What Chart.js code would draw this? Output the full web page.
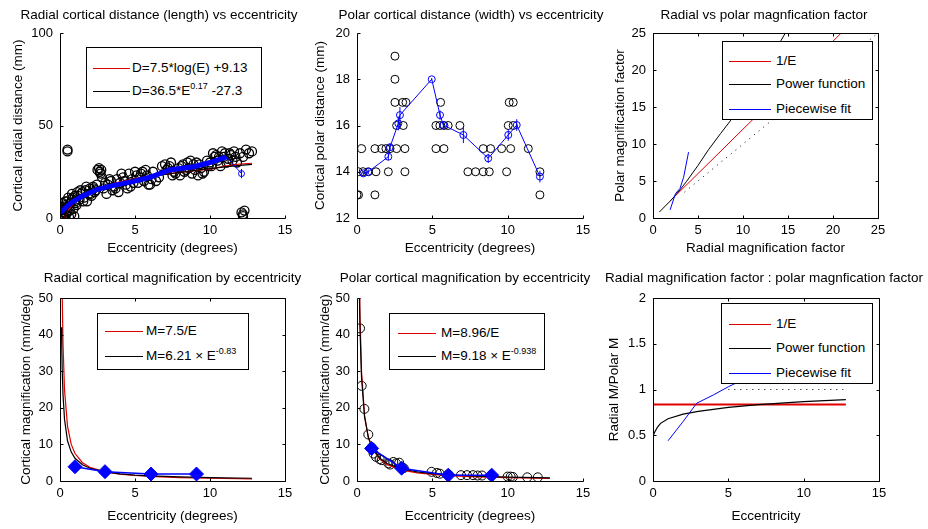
<!DOCTYPE html>
<html>
<head>
<meta charset="utf-8">
<script src="https://cdn.jsdelivr.net/npm/chart.js@4.4.1/dist/chart.umd.min.js"></script>
<style>
body{margin:0;background:#fff;width:928px;height:529px;overflow:hidden;position:relative;font-family:"Liberation Sans",Arial,sans-serif;color:#000}
canvas{position:absolute}
.lg{position:absolute;border:1px solid #000;background:#fff;box-sizing:border-box;z-index:5}
.lg .row{position:absolute;left:0;white-space:nowrap;font-size:13.5px;line-height:16px;height:16px}
.lg .ln{position:absolute;top:8px;height:0;border-top:1px solid #000}
.lg .tx{position:absolute;top:0}
.lg sup{font-size:9px;vertical-align:6px;line-height:0}
</style>
</head>
<body>
<canvas id="p1"></canvas>
<canvas id="p2"></canvas>
<canvas id="p3"></canvas>
<canvas id="p4"></canvas>
<canvas id="p5"></canvas>
<canvas id="p6"></canvas>
<script>
// ---- panel 1: radial cortical distance vs eccentricity
const radE = [0.05,0.1,0.1,0.15,0.2,0.2,0.25,0.3,0.3,0.35,
  0.4,0.45,0.5,0.5,0.5,0.6,0.6,0.7,0.75,0.8,
  0.85,0.9,0.95,1.0,1.0,1.1,1.2,1.3,1.4,1.5,
  1.6,1.7,1.8,1.9,2.0,2.1,2.2,2.3,2.4,2.5,
  2.6,2.7,2.8,2.9,3.0,3.1,3.2,3.4,3.5,3.6,
  3.8,3.9,4.0,4.2,4.4,4.6,4.7,4.8,5.0,5.1,
  5.2,5.3,5.5,5.6,5.8,6.0,6.1,6.4,6.8,7.0,
  7.1,7.3,7.5,7.7,7.9,8.1,8.3,8.5,8.7,8.9,
  9.0,9.2,9.4,9.6,9.9,10.0,10.2,10.4,10.5,10.7,
  10.9,11.0,11.2,11.4,11.6,11.8,12.0,12.2,12.6,12.1,
  12.2,12.3,12.2,
  0.15,0.25,0.35,0.45,0.55,0.65,0.8,1.05,1.15,1.35,
  1.55,1.75,2.05,2.25,2.45,2.65,2.75,3.3,3.7,4.1,
  4.3,4.5,4.9,5.4,5.7,5.9,6.2,6.6,7.2,7.4,
  7.6,8.0,8.2,8.4,8.6,8.8,9.1,9.3,9.5,9.8,
  10.1,10.3,10.6,10.8,11.1,11.3,11.5,11.7,12.4,12.8];
const radD = [2,4,0.5,6,1,8,3,5,0,7,
  2,9,4,36,37,0.5,6,8,2,10,
  11,5,1,12,9,7,12,10,13,14,
  11,15,9,13,16,12,17,14,15,26,
  27,24,22,16,19,13,18,20,15,17,
  21,14,19,22,18,24,17,21,25,23,
  19,22,25,20,23,18,21,20,28,29,
  26,28,23,24,27,28,25,30,31,29,
  26,23,27,25,28,30,35,34,31,28,
  33,35,32,34,36,30,35,33,35,3,
  1,4,2,
  3,1,9,6,11,4,13,8,14,15,
  9,17,13,16,18,25,26,21,16,24,
  20,16,19,24,26,18,25,22,27,30,
  25,23,29,26,27,24,30,29,24,31,
  28,33,33,36,30,35,31,33,37,36];
const radFitE = [0.3,0.5,1,2,3,4,5,6,7,8,9,10,11,12,12.8];
const radLogD = [0.1,3.9,9.1,14.3,17.4,19.5,21.2,22.6,23.7,24.7,25.6,26.4,28.0,29.2,29.6];
const radPowD = [-0.9,5.1,9.2,13.8,16.7,18.9,20.7,22.2,23.5,24.7,25.7,26.7,27.6,28.4,29.0];
const radMeanE = [0.05,0.3,0.7,1.4,2.5,3.5,4.9,6.0,7.3,8.9,10.0,11.1];
const radMeanD = [3,5,8,11.5,15.5,17.5,19.8,22,26,27.7,30,33];
const radTailE = [11.1,12.1];
const radTailD = [33,24];
const radTailErr = [0,2.5];

// ---- panel 2: polar cortical distance vs eccentricity
const polE = [2.52, 2.52,
  2.52,3.03,3.25,5.55,10.1,10.37,
  2.63,3.07,5.24,5.5,5.77,6.05,6.83,10.04,10.37,
  0.31,1.19,1.64,1.92,2.19,2.63,3.18,5.24,5.77,8.38,8.87,9.6,10.2,11.37,
  0.09,0.42,0.75,1.26,2.08,3.18,7.36,7.87,8.38,8.78,9.93,12.14,
  0.0,0.1,1.19,12.14];
const polP = [19, 18,
  17,17,17,17,17,17,
  16,16,16,16,16,16,16,16,16,
  15,15,15,15,15,15,15,15,15,15,15,15,15,15,
  14,14,14,14,14,14,14,14,14,14,14,14,
  13,13,13,13];
const polMeanE = [0.42,0.75,2.08,2.19,2.74,2.85,4.96,5.51,5.73,7.06,8.71,10.04,10.6,12.14];
const polMeanP = [13.93,14.0,14.65,15.06,16.09,16.45,18.0,16.45,16.02,15.59,14.58,15.59,16.02,13.79];
const polMeanErr = [0.1,0.1,0.15,0.15,0.3,0.35,0.05,0.2,0.15,0.35,0.2,0.25,0.25,0.25];

// ---- panel 3: radial vs polar magnification factor
const mfRedR = [1.9,4,7,11,15,21];
const mfRedP = [2.3,4.8,8.4,13.2,17.9,25.1];
const mfPowR = [0.7,2.0,3.0,3.7,5.0,6.15,7.5,8.7,11,13,14.8];
const mfPowP = [0.8,2.4,3.8,4.9,7.1,9.2,11.4,13.3,17.6,21.4,25.2];
const mfPieceR = [1.9,2.5,3.0,3.4,3.95];
const mfPieceP = [1.1,3.3,4.0,5.5,8.9];
const mfIdR = [3.5,25];
const mfIdP = [3.5,25];

// ---- panel 4: radial cortical magnification
const rmE = [0.1,0.12,0.15,0.2,0.3,0.5,0.75,1,1.5,2,3,4,5,6,8,10,12.8];
const rmInv = [75,62.5,50,37.5,25,15,10,7.5,5,3.75,2.5,1.88,1.5,1.25,0.94,0.75,0.59];
const rmPow = [42,36.1,30,23.6,16.9,11.0,7.9,6.21,4.44,3.49,2.50,1.97,1.63,1.40,1.11,0.92,0.75];
const rmPieceE = [1.0,3.0,6.07,9.1];
const rmPieceM = [3.9,2.55,1.9,1.9];

// ---- panel 5: polar cortical magnification
const pmE = [0.15,0.17,0.2,0.3,0.5,0.75,1,1.5,2,3,4,5,6,8,10,12.8];
const pmInv = [59.7,52.7,44.8,29.9,17.9,11.9,8.96,5.97,4.48,2.99,2.24,1.79,1.49,1.12,0.90,0.70];
const pmPow = [54.4,48.4,41.5,28.4,17.6,12.0,9.18,6.28,4.79,3.28,2.50,2.03,1.71,1.31,1.06,0.84];
const pmDataE = [0.2,0.31,0.49,0.75,0.97,1.1,1.26,1.5,1.64,2.08,2.2,2.41,2.6,2.8,2.96,3.1,
  4.95,5.3,5.5,6.06,6.9,7.3,7.7,8.0,8.3,8.9,10.0,10.2,10.35,11.3,12.0];
const pmDataM = [41.7,26,19.7,12.7,9.2,7.5,6.6,6.0,5.7,4.8,4.5,5.2,4.8,5.0,3.8,3.5,
  2.5,2.2,2.0,1.8,1.6,1.6,1.6,1.5,1.5,1.5,1.2,1.2,1.1,1.0,1.0];
const pmPieceE = [0.97,2.96,6.06,8.94];
const pmPieceM = [8.9,3.5,1.6,1.6];

// ---- panel 6: radial M / polar M
const ratInvE = [0,12.8];
const ratInv = [0.837,0.837];
const ratPowE = [0.02,0.1,0.3,0.5,1,2,3,5,7,10,12.8];
const ratPow = [0.5,0.53,0.59,0.63,0.68,0.73,0.76,0.805,0.835,0.867,0.89];
const ratPieceE = [1.0,2.0,2.9,4.0,5.0,6.5];
const ratPiece = [0.44,0.65,0.85,0.94,1.03,1.15];
const ratOneE = [5.0,12.8];
const ratOne = [1,1];

const RED = '#e00000', BLK = '#000000', BLU = '#0000ff';

Chart.defaults.font.family = '"Liberation Sans", Arial, sans-serif';
Chart.defaults.color = '#000';

function pts(xs, ys){ return xs.map((x, i) => ({x: x, y: ys[i]})); }

// vertical error bars as line pieces separated by gaps
function bars(xs, ys, es){
  const out = [];
  xs.forEach((x, i) => {
    out.push({x: x, y: ys[i] - es[i]}, {x: x, y: ys[i] + es[i]}, {x: x, y: null});
  });
  return out;
}

function line(data, color, width, extra){
  return Object.assign({data: data, yAxisID: 'y', showLine: true, spanGaps: false, borderColor: color,
    backgroundColor: color, borderWidth: width, pointRadius: 0, pointHoverRadius: 0, tension: 0}, extra || {});
}
function marks(data, color, style, r, extra){
  return Object.assign({data: data, yAxisID: 'y', showLine: false, pointStyle: style, pointRadius: r,
    pointHoverRadius: r, borderColor: color, backgroundColor: 'rgba(0,0,0,0)', pointBorderWidth: 1}, extra || {});
}

// matlab-like axes frame with inward ticks
function frame(box){
  return {
    id: 'frame',
    afterDatasetsDraw(chart){
      const ctx = chart.ctx, a = chart.chartArea, xs = chart.scales.x, ys = chart.scales.y;
      const L = Math.round(a.left) + 0.5, R = Math.round(a.right) + 0.5;
      const T = Math.round(a.top) + 0.5, B = Math.round(a.bottom) + 0.5;
      ctx.save();
      ctx.strokeStyle = '#000';
      ctx.lineWidth = 1;
      ctx.beginPath();
      if (box) {
        ctx.rect(L, T, R - L, B - T);
      } else {
        ctx.moveTo(L, T); ctx.lineTo(L, B); ctx.lineTo(R, B);
      }
      xs.ticks.forEach(t => {
        const p = Math.round(xs.getPixelForValue(t.value)) + 0.5;
        ctx.moveTo(p, B); ctx.lineTo(p, B - 3);
        if (box) { ctx.moveTo(p, T); ctx.lineTo(p, T + 3); }
      });
      ys.ticks.forEach(t => {
        const p = Math.round(ys.getPixelForValue(t.value)) + 0.5;
        ctx.moveTo(L, p); ctx.lineTo(L + 3, p);
        if (box) { ctx.moveTo(R, p); ctx.lineTo(R - 3, p); }
      });
      ctx.stroke();
      ctx.restore();
    }
  };
}

function panel(id, c){
  const cv = document.getElementById(id);
  cv.width = c.w; cv.height = c.h;
  cv.style.left = c.left + 'px'; cv.style.top = c.top + 'px';
  cv.style.width = c.w + 'px'; cv.style.height = c.h + 'px';
  const bottomRow = c.top > 0;
  return new Chart(cv.getContext('2d'), {
    type: 'scatter',
    data: {datasets: c.datasets},
    plugins: [frame(c.box)],
    options: {
      responsive: false,
      animation: false,
      events: [],
      layout: {padding: 0},
      plugins: {
        legend: {display: false},
        tooltip: {enabled: false},
        title: {display: true, text: c.title, color: '#000', font: {size: 13.5, weight: 'normal'},
          padding: bottomRow ? {top: 10.2, bottom: 11.6} : {top: 6.9, bottom: 9.9}}
      },
      scales: {
        x: {type: 'linear', position: 'bottom', min: c.x[0], max: c.x[1],
          ticks: {stepSize: c.x[2], autoSkip: false, maxRotation: 0, padding: 5, font: {size: 13},
            callback: v => String(v)},
          grid: {display: false, drawTicks: false}, border: {display: false},
          title: {display: true, text: c.xTitle, font: {size: 13.5}, padding: {top: 0, bottom: bottomRow ? 4.2 : 3.9}},
          afterFit(s){ s.height = c.h - c.plotBottom; }},
        y: {type: 'linear', position: 'left', min: c.y[0], max: c.y[1],
          ticks: {stepSize: c.y[2], autoSkip: false, padding: 7, font: {size: 13},
            callback: v => String(v)},
          grid: {display: false, drawTicks: false}, border: {display: false},
          title: {display: true, text: c.yTitle, font: {size: 13.5}, padding: {top: c.yPad, bottom: 0}},
          afterFit(s){ s.width = c.plotLeft; }},
        yR: {type: 'linear', position: 'right', display: true,
          ticks: {display: false}, grid: {display: false, drawTicks: false}, border: {display: false},
          afterFit(s){ s.width = c.w - c.plotRight; }}
      }
    }
  });
}

function legend(left, top, w, h, lineLeft, lineW, textLeft, rows){
  const d = document.createElement('div');
  d.className = 'lg';
  Object.assign(d.style, {left: left + 'px', top: top + 'px', width: w + 'px', height: h + 'px'});
  rows.forEach(r => {
    const row = document.createElement('div');
    row.className = 'row';
    row.style.top = (r.y - 8) + 'px';
    row.innerHTML = '<span class="ln" style="left:' + lineLeft + 'px;width:' + lineW + 'px;border-top-color:' + r.color + '"></span>' +
      '<span class="tx" style="left:' + textLeft + 'px">' + r.text + '</span>';
    d.appendChild(row);
  });
  document.body.appendChild(d);
}

// ---- charts
panel('p1', {left: 0, top: 0, w: 318, h: 260, plotLeft: 60, plotRight: 285, plotBottom: 218, box: false,
  title: 'Radial cortical distance (length) vs eccentricity', xTitle: 'Eccentricity (degrees)',
  yTitle: 'Cortical radial distance (mm)', yPad: 9.9, x: [0, 15, 5], y: [0, 100, 50],
  datasets: [
    line(pts(radMeanE, radMeanD), BLU, 5, {order: 0}),
    line(pts(radTailE, radTailD), BLU, 1, {order: 0}),
    line(bars(radTailE, radTailD, radTailErr), BLU, 1, {order: 0}),
    marks(pts([radTailE[1]], [radTailD[1]]), BLU, 'circle', 3, {order: 0}),
    line(pts(radFitE, radPowD), BLK, 1.2, {order: 1}),
    line(pts(radFitE, radLogD), RED, 1.2, {order: 2}),
    marks(pts(radE, radD), BLK, 'circle', 4.5, {order: 3, pointBorderWidth: 1.3})
  ]});

panel('p2', {left: 300, top: 0, w: 342, h: 260, plotLeft: 57, plotRight: 283, plotBottom: 218, box: false,
  title: 'Polar cortical distance (width) vs eccentricity', xTitle: 'Eccentricity (degrees)',
  yTitle: 'Cortical polar distance (mm)', yPad: 11.9, x: [0, 15, 5], y: [12, 20, 2],
  datasets: [
    line(pts(polMeanE, polMeanP), BLU, 1, {order: 0}),
    line(bars(polMeanE, polMeanP, polMeanErr), BLU, 1, {order: 0}),
    marks(pts(polMeanE, polMeanP), BLU, 'circle', 3.5, {order: 0}),
    marks(pts(polE, polP), BLK, 'circle', 4, {order: 3})
  ]});

panel('p3', {left: 600, top: 0, w: 328, h: 260, plotLeft: 53, plotRight: 278, plotBottom: 218, box: true,
  title: 'Radial vs polar magnfication factor', xTitle: 'Radial magnification factor',
  yTitle: 'Polar magnification factor', yPad: 11.9, x: [0, 25, 5], y: [0, 25, 5],
  datasets: [
    line(pts(mfPieceR, mfPieceP), BLU, 1, {order: 0}),
    line(pts(mfPowR, mfPowP), BLK, 1, {order: 1}),
    line(pts(mfRedR, mfRedP), RED, 1, {order: 2}),
    line(pts(mfIdR, mfIdP), BLK, 1, {order: 3, borderDash: [1, 5]})
  ]});

panel('p4', {left: 0, top: 260, w: 345, h: 269, plotLeft: 60, plotRight: 285, plotBottom: 221, box: true,
  title: 'Radial cortical magnification by eccentricity', xTitle: 'Eccentricity (degrees)',
  yTitle: 'Cortical magnification (mm/deg)', yPad: 18.6, x: [0, 15, 5], y: [0, 50, 10],
  datasets: [
    line(pts(rmPieceE, rmPieceM), BLU, 1.5, {order: 0}),
    marks(pts(rmPieceE, rmPieceM), BLU, 'rectRot', 7, {order: 0, backgroundColor: BLU}),
    line(pts(rmE, rmPow), BLK, 1.2, {order: 1}),
    line(pts(rmE, rmInv), RED, 1.2, {order: 2})
  ]});

panel('p5', {left: 300, top: 260, w: 330, h: 269, plotLeft: 57, plotRight: 283, plotBottom: 221, box: false,
  title: 'Polar cortical magnification by eccentricity', xTitle: 'Eccentricity (degrees)',
  yTitle: 'Cortical magnification (mm/deg)', yPad: 16.9, x: [0, 15, 5], y: [0, 50, 10],
  datasets: [
    line(pts(pmPieceE, pmPieceM), BLU, 1.5, {order: 0}),
    marks(pts(pmPieceE, pmPieceM), BLU, 'rectRot', 7, {order: 0, backgroundColor: BLU}),
    line(pts(pmE, pmPow), BLK, 1.2, {order: 1}),
    line(pts(pmE, pmInv), RED, 1.2, {order: 2}),
    marks(pts(pmDataE, pmDataM), BLK, 'circle', 4.5, {order: 3})
  ]});

panel('p6', {left: 600, top: 260, w: 328, h: 269, plotLeft: 53, plotRight: 279, plotBottom: 221, box: true,
  title: 'Radial magnification factor : polar magnfication factor', xTitle: 'Eccentricity',
  yTitle: 'Radial M/Polar M', yPad: 5.9, x: [0, 15, 5], y: [0, 2, 0.5],
  datasets: [
    line(pts(ratPieceE, ratPiece), BLU, 1, {order: 0}),
    line(pts(ratPowE, ratPow), BLK, 1.2, {order: 1}),
    line(pts(ratInvE, ratInv), RED, 2, {order: 2}),
    line(pts(ratOneE, ratOne), BLK, 1, {order: 3, borderDash: [1, 5]})
  ]});

// ---- legends
legend(86, 47, 176, 61, 6, 37, 45, [
  {y: 20, color: RED, text: 'D=7.5*log(E) +9.13'},
  {y: 43, color: BLK, text: 'D=36.5*E<sup>0.17</sup> -27.3'}
]);
legend(722, 41, 151, 79, 6, 42, 53, [
  {y: 19, color: RED, text: '1/E'},
  {y: 42, color: BLK, text: 'Power function'},
  {y: 67, color: BLU, text: 'Piecewise fit'}
]);
legend(97, 313, 152, 57, 7, 38, 48, [
  {y: 17, color: RED, text: 'M=7.5/E'},
  {y: 42, color: BLK, text: 'M=6.21 × E<sup>-0.83</sup>'}
]);
legend(389, 313, 156, 57, 8, 38, 51, [
  {y: 19, color: RED, text: 'M=8.96/E'},
  {y: 42, color: BLK, text: 'M=9.18 × E<sup>-0.938</sup>'}
]);
legend(721, 303, 152, 81, 7, 42, 54, [
  {y: 20, color: RED, text: '1/E'},
  {y: 44, color: BLK, text: 'Power function'},
  {y: 69, color: BLU, text: 'Piecewise fit'}
]);
</script>
</body>
</html>
